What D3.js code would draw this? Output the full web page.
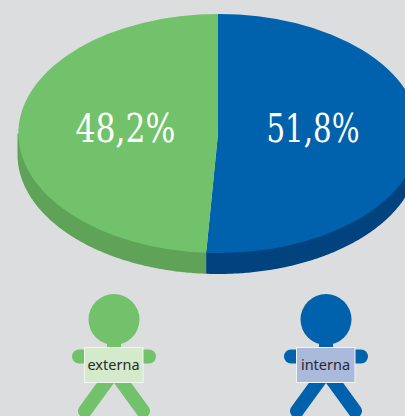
<!DOCTYPE html>
<html><head><meta charset="utf-8">
<script src="https://cdn.jsdelivr.net/npm/d3@7/dist/d3.min.js"></script>
<style>html,body{margin:0;padding:0;background:#dcdddf;overflow:hidden}svg{display:block}</style>
</head><body><svg id="c" width="405" height="416"></svg>
<script>
const categories = ["interna", "externa"];
const values = [51.8, 48.2];
const valueLabels = ["51,8%", "48,2%"];
const topColors = ["#0062ac", "#72c26b"];
const sideColors = ["#00437f", "#5ea358"];
const signColors = ["#a9badd", "#d3eacb"];

const svg = d3.select("#c");
const W = 405, H = 416;
svg.append("rect").attr("width", W).attr("height", H).attr("fill", "#dcdddf");

// The tilted disc: the picture's foreshortening moves the seam from 186.5deg to about 183.4deg
const warp = d3.scaleLinear().domain([0, 0.518 * 2 * Math.PI, 2 * Math.PI])
  .range([0, 183.4 * Math.PI / 180, 2 * Math.PI]);
const pie = d3.pie().value(d => d).sort(null);
const arcs = pie(values).map((a, i) => ({i, startAngle: warp(a.startAngle), endAngle: warp(a.endAngle)}));

const cx = 218, cy = 133.5, rx = 200.5, ry = 119.5, depth = 21;
const px = (t, k = 1) => cx + k * rx * Math.sin(t);
const py = (t, k = 1) => cy - k * ry * Math.cos(t);

// Side wall (only the part of each slice on the front half of the disc); tucked under the top
const wallLine = d3.line();
arcs.forEach(a => {
  const s = Math.max(a.startAngle, Math.PI / 2), e = Math.min(a.endAngle, 3 * Math.PI / 2);
  if (e <= s) return;
  const ts = d3.range(s, e, 0.01).concat([e]);
  const inner = ts.map((t, j) => {
    const k = (j === 0 || j === ts.length - 1) ? 1 : 0.98;
    return [px(t, k), py(t, k)];
  });
  const pts = inner.concat(ts.slice().reverse().map(t => [px(t), py(t) + depth]));
  svg.append("path").attr("d", wallLine(pts) + "Z").attr("fill", sideColors[a.i]);
});

// Top of disc
const arcGen = d3.arc().innerRadius(0).outerRadius(1);
const disc = svg.append("g").attr("transform", `translate(${cx},${cy}) scale(${rx},${ry})`);
disc.selectAll("path").data(arcs).join("path")
  .attr("d", arcGen).attr("fill", d => topColors[d.i]);

// Percentage labels
const labelX = [313, 125.5];
svg.selectAll("text.pct").data(valueLabels).join("text").attr("class", "pct")
  .attr("x", (d, i) => labelX[i]).attr("y", 141.5)
  .attr("text-anchor", "middle").attr("fill", "#fff")
  .attr("font-family", "'DejaVu Serif'").attr("font-size", 39)
  .attr("textLength", (d, i) => i ? 100 : 93).attr("lengthAdjust", "spacingAndGlyphs")
  .text(d => d);

// People holding signs
const personX = d3.scaleOrdinal().domain(categories).range([326, 114]);
categories.forEach((c, i) => {
  const x = personX(c), col = topColors[i];
  const g = svg.append("g").attr("transform", `translate(${x},0)`);
  g.append("circle").attr("cy", 319.5).attr("r", 25.5).attr("fill", col);
  g.append("rect").attr("x", -7).attr("y", 340).attr("width", 14).attr("height", 12).attr("fill", col);
  g.append("line").attr("x1", -35).attr("x2", 35).attr("y1", 356.5).attr("y2", 356.5)
    .attr("stroke", col).attr("stroke-width", 14).attr("stroke-linecap", "round");
  g.selectAll("line.leg").data([-1, 1]).join("line").attr("class", "leg")
    .attr("x1", d => d * 5).attr("y1", 378).attr("x2", d => d * 29).attr("y2", 411)
    .attr("stroke", col).attr("stroke-width", 14).attr("stroke-linecap", "round");
  g.append("rect").attr("x", -29.5).attr("y", 347.5).attr("width", 58.5).attr("height", 35)
    .attr("fill", signColors[i]).attr("stroke", "#f2f5f2").attr("stroke-width", 1);
  g.append("text").attr("x", -0.5).attr("y", 369.5).attr("text-anchor", "middle")
    .attr("font-family", "'Noto Sans'").attr("font-size", 14.5).attr("fill", "#2a2a2e").text(c);
});
</script></body></html>
